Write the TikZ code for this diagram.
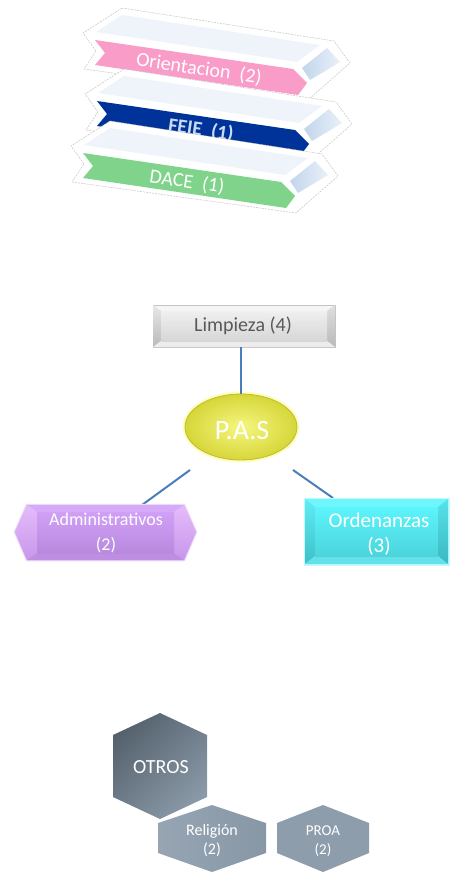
\documentclass[tikz,border=0pt]{standalone}
\usepackage{fontspec}
\setmainfont{Carlito}
\usetikzlibrary{shapes.geometric,calc}
\definecolor{ribpink}{HTML}{F99CC8}
\definecolor{ribnavy}{HTML}{00339A}
\definecolor{ribgreen}{HTML}{7FD38B}
\definecolor{ribtopc}{HTML}{EFF4FA}
\definecolor{capA}{HTML}{C2D5EB}
\definecolor{capB}{HTML}{E9F1FA}
\definecolor{feietext}{HTML}{C9DBF2}
\definecolor{outlinegray}{HTML}{C4C4C4}
\definecolor{connblue}{HTML}{4A7EBB}
\definecolor{limtext}{HTML}{595959}
\definecolor{otrosA}{HTML}{56636F}
\definecolor{otrosB}{HTML}{8A99A7}
\definecolor{relA}{HTML}{97A5B3}
\definecolor{relB}{HTML}{8797A6}
\definecolor{proaC}{HTML}{8E9DAB}
\definecolor{pasIn}{RGB}{246,246,128}
\definecolor{pasOut}{RGB}{214,214,58}
\definecolor{pasBorder}{RGB}{190,190,40}
\definecolor{admGlow}{RGB}{236,218,250}
\definecolor{admBase}{RGB}{214,170,248}
\definecolor{admSideA}{RGB}{228,188,250}
\definecolor{admSideB}{RGB}{200,150,235}
\definecolor{admBot}{RGB}{190,142,226}
\definecolor{admFaceA}{RGB}{208,160,246}
\definecolor{admFaceB}{RGB}{184,138,222}
\definecolor{ordGlow}{RGB}{190,250,254}
\definecolor{ordBase}{RGB}{110,246,252}
\definecolor{ordLA}{RGB}{96,236,244}
\definecolor{ordLB}{RGB}{62,192,200}
\definecolor{ordRA}{RGB}{88,226,234}
\definecolor{ordRB}{RGB}{58,184,192}
\definecolor{ordBot}{RGB}{100,224,232}
\definecolor{ordFaceA}{RGB}{92,244,251}
\definecolor{ordFaceB}{RGB}{76,212,220}
\tikzset{
  ribout/.style={fill=white, draw=outlinegray, line width=0.5pt, dash pattern=on 2pt off 1pt},
  ribtop/.style={fill=ribtopc},
  ribtext/.style={font=\fontsize{20}{23}\selectfont, rotate=-8.4, inner sep=0pt},
  conn/.style={draw=connblue, line width=2pt},
  whitelab/.style={text=white, align=center, inner sep=0pt},
}
\newcommand{\myribbon}[6]{%
  \begin{scope}[shift={(#1,#2)}]
    \draw[ribout] (27,-32) -- (239,1) -- (255,23) -- (213,60) -- (-11,29) -- (1,11) -- (-12,-7) -- cycle;
    \fill[ribtop] (1,-8) -- (27,-25) -- (225,5) -- (202,22) -- cycle;
    \fill[#3] (0,0) -- (198,29) -- (212,43) -- (203,55) -- (0,25) -- (10,13) -- cycle;
    \shade[left color=capA, right color=capB] (207,28) -- (232,8) -- (245,22) -- (215,40) -- cycle;
    \node[ribtext, text=#4] (#5) at (104,29) {#6};
  \end{scope}}
\begin{document}
\begin{tikzpicture}[x=1pt,y=-1pt]
\useasboundingbox (0,0) rectangle (451,872);

% ---- ribbons ----
\myribbon{95}{40}{ribpink}{white}{ori}{Orientacion\ \ (2)}
\myribbon{97}{101}{ribnavy}{feietext}{feie}{\bfseries FEIE\ \ (1)}
\myribbon{83}{153}{ribgreen}{white}{dace}{DACE\ \ (1)}

% ---- Limpieza ----
\filldraw[draw=outlinegray, fill=gray!8, line width=0.6pt] (153,305) rectangle (335,347);
\shade[top color=gray!18, bottom color=gray!55] (153,305) -- (161,311) -- (161,341) -- (153,347) -- cycle;
\shade[top color=gray!25, bottom color=gray!55] (335,305) -- (327,311) -- (327,341) -- (335,347) -- cycle;
\fill[gray!15] (153,347) -- (161,341) -- (327,341) -- (335,347) -- cycle;
\shade[top color=gray!12, bottom color=gray!32] (161,311) rectangle (327,341);
\node[text=limtext, font=\fontsize{20}{24}\selectfont, minimum width=182pt, minimum height=42pt, inner sep=0pt] (lim) at (243,326) {Limpieza (4)};

% ---- P.A.S ----
\node[ellipse, minimum width=117pt, minimum height=71pt, fill=yellow!25, draw=none] (pasglow) at (241,427) {};
\node[ellipse, minimum width=112pt, minimum height=66pt, inner color=pasIn, outer color=pasOut, draw=pasBorder, line width=0.8pt] (pas) at (241,427) {};
\node[whitelab, font=\fontsize{28}{32}\selectfont] (pastext) at (242,431) {P.A.S};

\draw[conn] (pas.north |- lim.south) -- (pas.north);
\coordinate (pasSW) at (190,470);
\coordinate (admN) at (142,505);
\coordinate (pasSE) at (293,470);
\coordinate (ordN) at (333,498);
\draw[conn] (pasSW) -- (admN);
\draw[conn] (pasSE) -- (ordN);

% ---- Administrativos ----
\draw[line width=2.5pt, draw=admGlow, line join=round] (15,532) -- (27,505) -- (184,505) -- (196,532) -- (184,560) -- (27,560) -- cycle;
\fill[admBase] (15,532) -- (27,505) -- (184,505) -- (196,532) -- (184,560) -- (27,560) -- cycle;
\shade[top color=admSideA, bottom color=admSideB] (15,532) -- (27,505) -- (37,512) -- (37,553) -- (27,560) -- cycle;
\shade[top color=admSideA, bottom color=admSideB] (196,532) -- (184,505) -- (174,512) -- (174,553) -- (184,560) -- cycle;
\fill[admBot] (27,560) -- (37,553) -- (174,553) -- (184,560) -- cycle;
\shade[top color=admFaceA, bottom color=admFaceB] (37,512) rectangle (174,553);
\node[whitelab, font=\fontsize{18}{25}\selectfont] (adm) at (106,533) {Administrativos\\(2)};

% ---- Ordenanzas ----
\draw[line width=3pt, draw=ordGlow] (305,499) rectangle (448,564);
\fill[ordBase] (305,499) rectangle (448,564);
\shade[top color=ordLA, bottom color=ordLB] (305,499) -- (315,507) -- (315,556) -- (305,564) -- cycle;
\shade[top color=ordRA, bottom color=ordRB] (448,499) -- (438,507) -- (438,556) -- (448,564) -- cycle;
\fill[ordBot] (305,564) -- (315,556) -- (438,556) -- (448,564) -- cycle;
\shade[top color=ordFaceA, bottom color=ordFaceB] (315,507) rectangle (438,556);
\node[whitelab, font=\fontsize{21}{25}\selectfont] (ord) at (379,534) {Ordenanzas\\(3)};

% ---- OTROS group ----
\shade[top color=otrosA, bottom color=otrosB, shading angle=45] (160,713) -- (207,735) -- (207,797) -- (160,819) -- (113,797) -- (113,735) -- cycle;
\node[whitelab, font=\fontsize{20}{24}\selectfont] (otros) at (161,767) {OTROS};
\shade[left color=relA, right color=relB] (212,805) -- (266,823) -- (266,853) -- (212,872) -- (158,853) -- (158,823) -- cycle;
\node[whitelab, font=\fontsize{16}{19}\selectfont] (rel) at (212,841) {Religión\\(2)};
\fill[proaC] (323,805) -- (369,823) -- (369,853) -- (323,872) -- (277,853) -- (277,823) -- cycle;
\node[whitelab, font=\fontsize{15}{19}\selectfont] (proa) at (323,841) {PROA\\(2)};
\end{tikzpicture}
\end{document}
